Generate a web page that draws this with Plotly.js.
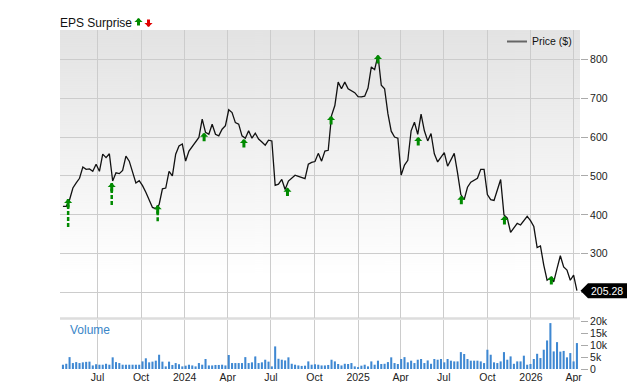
<!DOCTYPE html>
<html><head><meta charset="utf-8">
<script src="https://cdn.plot.ly/plotly-3.0.1.min.js"></script>
<style>html,body{margin:0;padding:0;background:#fff}#chart{width:640px;height:382px}</style>
</head><body><div id="chart"></div>
<script>
// ---------- data ----------
const weekDates = [
'2023-04-19','2023-04-26','2023-05-03','2023-05-10','2023-05-17','2023-05-24','2023-05-31','2023-06-07','2023-06-14','2023-06-21',
'2023-06-28','2023-07-05','2023-07-12','2023-07-19','2023-07-26','2023-08-02','2023-08-09','2023-08-16','2023-08-23','2023-08-30',
'2023-09-06','2023-09-13','2023-09-20','2023-09-27','2023-10-04','2023-10-11','2023-10-18','2023-10-25','2023-11-01','2023-11-08',
'2023-11-15','2023-11-22','2023-11-29','2023-12-06','2023-12-13','2023-12-20','2023-12-27','2024-01-03','2024-01-10','2024-01-17',
'2024-01-24','2024-01-31','2024-02-07','2024-02-14','2024-02-21','2024-02-28','2024-03-06','2024-03-13','2024-03-20','2024-03-27',
'2024-04-03','2024-04-10','2024-04-17','2024-04-24','2024-05-01','2024-05-08','2024-05-15','2024-05-22','2024-05-29','2024-06-05',
'2024-06-12','2024-06-19','2024-06-26','2024-07-03','2024-07-10','2024-07-17','2024-07-24','2024-07-31','2024-08-07','2024-08-14',
'2024-08-21','2024-08-28','2024-09-04','2024-09-11','2024-09-18','2024-09-25','2024-10-02','2024-10-09','2024-10-16','2024-10-23',
'2024-10-30','2024-11-06','2024-11-13','2024-11-20','2024-11-27','2024-12-04','2024-12-11','2024-12-18','2024-12-25','2025-01-01',
'2025-01-08','2025-01-15','2025-01-22','2025-01-29','2025-02-05','2025-02-12','2025-02-19','2025-02-26','2025-03-05','2025-03-12',
'2025-03-19','2025-03-26','2025-04-02','2025-04-09','2025-04-16','2025-04-23','2025-04-30','2025-05-07','2025-05-14','2025-05-21',
'2025-05-28','2025-06-04','2025-06-11','2025-06-18','2025-06-25','2025-07-02','2025-07-09','2025-07-16','2025-07-23','2025-07-30',
'2025-08-06','2025-08-13','2025-08-20','2025-08-27','2025-09-03','2025-09-10','2025-09-17','2025-09-24','2025-10-01','2025-10-08',
'2025-10-15','2025-10-22','2025-10-29','2025-11-05','2025-11-12','2025-11-19','2025-11-26','2025-12-03','2025-12-10','2025-12-17',
'2025-12-24','2025-12-31','2026-01-07','2026-01-14','2026-01-21','2026-01-28','2026-02-04','2026-02-11','2026-02-18','2026-02-25',
'2026-03-04','2026-03-11','2026-03-18','2026-03-25','2026-04-01','2026-04-08'];

const price = [
422,422,439,469,482,494,523,517,518,512,
530,512,556,547,557,487,508,506,514,551,
538,512,482,488,475,458,439,419,416,426,
467,469,512,500,556,577,582,538,564,576,
586,599,646,612,607,633,607,603,620,629,
670,663,637,633,603,597,616,597,610,595,
587,579,592,590,476,479,491,465,487,495,
502,499,496,493,530,535,537,558,538,564,
566,655,681,741,724,741,724,720,714,704,
703,705,726,780,773,810,733,724,660,615,
600,597,502,528,540,616,638,607,659,616,
590,609,557,536,548,560,525,541,558,508,
452,439,471,484,489,494,517,517,452,439,
437,464,491,400,392,355,368,378,374,385,
396,385,370,316,320,271,232,238,228,262,
295,266,258,232,245,205.28];

const volume = [
1800,2200,5000,2500,2900,2500,2800,3000,3100,1500,
2000,1800,1800,2200,1800,4900,2900,2500,1800,1800,
1800,1800,1800,1800,3200,4500,2800,3100,3500,6000,
3100,1100,3100,1700,2500,2000,1100,1400,1800,1500,
1100,2500,1800,4200,1500,1500,1700,1700,1800,1500,
5900,2500,2500,2500,2500,5000,2500,2800,5300,2500,
2800,3900,3100,1100,9500,4300,3900,3600,4900,2200,
1800,1500,1300,1400,3200,1800,2000,1800,1500,1500,
1700,3900,3200,2100,1500,2200,2100,2500,1100,800,
1400,1800,1100,3200,1800,3500,2100,2200,2900,4900,
2500,2100,4200,5000,2800,3500,2500,3900,4200,2500,
3600,2200,4200,3900,4200,2800,4200,3500,3200,3200,
7100,6300,4200,3500,3500,3500,3200,2500,8100,6000,
2800,2500,3200,7100,3900,5300,2200,3200,3200,5600,
1800,2100,4200,6400,4600,8100,12000,19300,7400,11300,
7300,7600,4900,6700,3200,10900];

const epsDates = ['2023-04-30','2023-07-31','2023-11-05','2024-02-11','2024-05-05','2024-08-05',
                  '2024-11-05','2025-02-12','2025-05-08','2025-08-07','2025-11-06','2026-02-13'];
const epsPrice = [441,482,425,611,595,470,654,811,600,449,397,243];
const epsTail  = [369,420,379,null,null,null,null,null,null,null,null,null];

const xTickDates = ['2023-07-01','2023-10-01','2024-01-01','2024-04-01','2024-07-01','2024-10-01',
                    '2025-01-01','2025-04-01','2025-07-01','2025-10-01','2026-01-01','2026-04-01'];
const xTickLabels = ['Jul','Oct','2024','Apr','Jul','Oct','2025','Apr','Jul','Oct','2026','Apr'];
const priceTicks = [200,300,400,500,600,700,800];
const priceTickLabels = ['','300','400','500','600','700','800'];
const volTicks = [0,5000,10000,15000,20000];
const volTickLabels = ['0','5k','10k','15k','20k'];

// ---------- geometry ----------
const W = 640, H = 382, ML = 60, MR = 60, MT = 30, MB = 13;
const plotW = W - ML - MR, plotH = H - MT - MB;
const priceBottomPx = 318, volTopPx = 320;
const priceDomain = [(H - MB - priceBottomPx) / plotH, 1];
const volDomain = [0, (H - MB - volTopPx) / plotH];
const priceRange = [135, 875];
const volRange = [0, 20600];
const fx = px => (px - ML) / plotW;
const fy = py => (H - MB - py) / plotH;
const FONT = 'Liberation Sans, Arial, sans-serif';
const GREEN = '#008a00';

// gradient background for price panel
const cv = document.createElement('canvas');
cv.width = 4; cv.height = 288;
const cx = cv.getContext('2d');
const gr = cx.createLinearGradient(0, 0, 0, 288);
gr.addColorStop(0, '#e3e3e3');
gr.addColorStop(0.85, '#ffffff');
gr.addColorStop(1, '#ffffff');
cx.fillStyle = gr; cx.fillRect(0, 0, 4, 288);
const bgURL = cv.toDataURL('image/png');

// ---------- traces ----------
const tailX = [], tailY = [];
epsDates.forEach((d, i) => {
  if (epsTail[i] !== null) { tailX.push(d, d, null); tailY.push(epsPrice[i], epsTail[i], null); }
});

const traces = [
  {type:'bar', x: weekDates, y: volume, xaxis:'x', yaxis:'y2',
   marker:{color:'#3f88d2', line:{width:0}}, hoverinfo:'skip'},
  {type:'scatter', mode:'lines', x: tailX, y: tailY, xaxis:'x', yaxis:'y',
   line:{color:GREEN, width:2.5, dash:'4px,2px'}, hoverinfo:'skip', connectgaps:false},
  {type:'scatter', mode:'lines', x: weekDates, y: price, xaxis:'x', yaxis:'y',
   line:{color:'#111111', width:1.3}, hoverinfo:'skip'}
];

// ---------- annotations ----------
const annotations = [];
epsDates.forEach((d, i) => {
  annotations.push({x:d, y:epsPrice[i], xref:'x', yref:'y', text:'', showarrow:true,
    arrowhead:1, arrowsize:0.45, arrowwidth:3, arrowcolor:GREEN, ax:0, ay:10, standoff:0});
});
annotations.push({x:fx(58), y:fy(22.5), xref:'paper', yref:'paper', xanchor:'left', yanchor:'middle',
  text:'EPS Surprise', showarrow:false, font:{family:FONT, size:12, color:'#111'}});
annotations.push({x:fx(138.5), y:fy(18), xref:'paper', yref:'paper', text:'', showarrow:true,
  arrowhead:1, arrowsize:0.45, arrowwidth:3, arrowcolor:GREEN, ax:0, ay:9, standoff:0});
annotations.push({x:fx(148.5), y:fy(27), xref:'paper', yref:'paper', text:'', showarrow:true,
  arrowhead:1, arrowsize:0.45, arrowwidth:3, arrowcolor:'#e00000', ax:0, ay:-9, standoff:0});
annotations.push({x:fx(68), y:fy(330), xref:'paper', yref:'paper', xanchor:'left', yanchor:'middle',
  text:'Volume', showarrow:false, font:{family:FONT, size:12, color:'#3a86c8'}});
annotations.push({x:fx(530), y:fy(41.5), xref:'paper', yref:'paper', xanchor:'left', yanchor:'middle',
  text:'Price ($)', showarrow:false, font:{family:FONT, size:10.5, color:'#111'}});

const lastPrice = price[price.length - 1];
const yLast = priceDomain[0] + (lastPrice - priceRange[0]) / (priceRange[1] - priceRange[0]) * (priceDomain[1] - priceDomain[0]);
const pxu = 1 / plotW, pyu = 1 / plotH;
annotations.push({x:1 + 9 * pxu, y:yLast, xref:'paper', yref:'paper', xanchor:'left', yanchor:'middle',
  text:lastPrice.toFixed(2), showarrow:false, font:{family:FONT, size:10.5, color:'#ffffff'}});

// ---------- shapes ----------
const shapes = [
  {type:'line', xref:'paper', yref:'paper', x0:0, x1:1, y0:fy(318.5), y1:fy(318.5),
   line:{color:'#dddddd', width:2.5}, layer:'below'},
  {type:'line', xref:'paper', yref:'paper', x0:fx(507), x1:fx(527), y0:fy(41.5), y1:fy(41.5),
   line:{color:'#666666', width:2}},
  {type:'path', xref:'paper', yref:'paper', layer:'above', fillcolor:'#000000', line:{width:0},
   path:`M ${1 + 0.5 * pxu},${yLast} L ${1 + 8 * pxu},${yLast + 7.5 * pyu} L ${1 + 47 * pxu},${yLast + 7.5 * pyu} L ${1 + 47 * pxu},${yLast - 7.5 * pyu} L ${1 + 8 * pxu},${yLast - 7.5 * pyu} Z`}
];

const tickFont = {family:FONT, size:10.5, color:'#222'};
const layout = {
  width:W, height:H, margin:{l:ML, r:MR, t:MT, b:MB},
  paper_bgcolor:'#ffffff', plot_bgcolor:'rgba(0,0,0,0)',
  showlegend:false, bargap:0.38,
  font:{family:FONT},
  xaxis:{type:'date', range:['2023-04-12T19:00','2026-04-14T12:00'], anchor:'y2',
    tickvals:xTickDates, ticktext:xTickLabels, ticks:'', showgrid:true, gridcolor:'#cccccc', gridwidth:1,
    zeroline:false, showline:false, tickfont:tickFont, fixedrange:true},
  yaxis:{domain:priceDomain, range:priceRange, side:'right', anchor:'x', tickvals:priceTicks, ticktext:priceTickLabels,
    ticks:'outside', ticklen:7, tickcolor:'#aaaaaa', tickwidth:1, showgrid:true, gridcolor:'#cccccc', gridwidth:1,
    zeroline:false, showline:false, tickfont:tickFont},
  yaxis2:{domain:volDomain, range:volRange, side:'right', anchor:'x', tickvals:volTicks, ticktext:volTickLabels,
    ticks:'outside', ticklen:7, tickcolor:'#aaaaaa', tickwidth:1, showgrid:false,
    zeroline:false, showline:false, tickfont:tickFont},
  images:[{source:bgURL, xref:'paper', yref:'paper', x:0, y:1, sizex:1, sizey:1 - priceDomain[0],
    xanchor:'left', yanchor:'top', sizing:'stretch', layer:'below'}],
  annotations: annotations,
  shapes: shapes
};

Plotly.newPlot('chart', traces, layout, {staticPlot:true, displayModeBar:false});
</script>
</body></html>
